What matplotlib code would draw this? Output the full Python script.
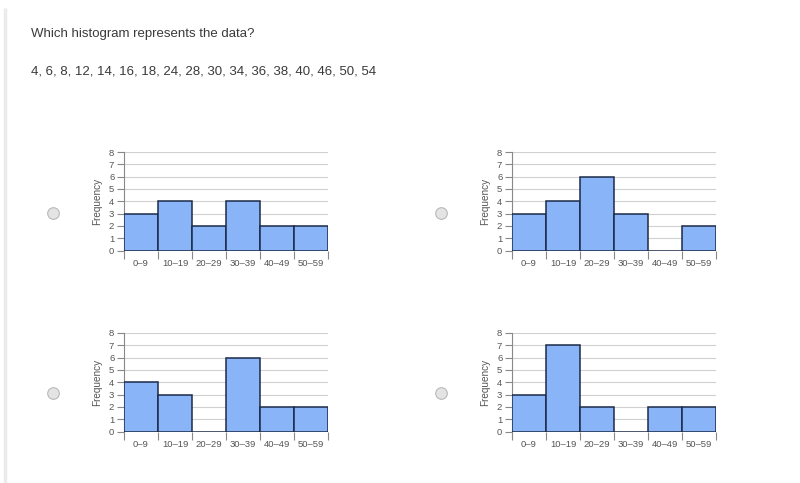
import matplotlib
matplotlib.use("Agg")
import matplotlib.pyplot as plt
import numpy as np

plt.rcParams['font.family'] = ['Liberation Sans', 'DejaVu Sans']

question = "Which histogram represents the data?"
data_text = "4, 6, 8, 12, 14, 16, 18, 24, 28, 30, 34, 36, 38, 40, 46, 50, 54"
categories = ["0–9", "10–19", "20–29", "30–39", "40–49", "50–59"]
freq_a = [3, 4, 2, 4, 2, 2]
freq_b = [3, 4, 6, 3, 0, 2]
freq_c = [4, 3, 0, 6, 2, 2]
freq_d = [3, 7, 2, 0, 2, 2]
y_ticks = list(range(0, 9))

W, H = 800, 483
fig = plt.figure(figsize=(W / 100, H / 100), dpi=100)
fig.patch.set_facecolor("white")

# background overlay in pixel coordinates
bg = fig.add_axes([0, 0, 1, 1], zorder=0)
bg.set_xlim(0, W)
bg.set_ylim(H, 0)
bg.axis("off")
bg.plot([5, 5], [8, H], color="#ebebeb", lw=2.5, solid_capstyle="butt")
bg.text(31, 34, question, fontsize=9.5, color="#3a3a3a", va="center", ha="left")
bg.text(31, 71, data_text, fontsize=9.5, color="#3a3a3a", va="center", ha="left")
for (cx, cy) in [(53, 213), (441, 213), (53, 393), (441, 393)]:
    bg.scatter([cx], [cy], s=70, facecolor="#e4e4e4", edgecolor="#b8b8b8", linewidth=0.8, zorder=3)

panels = [
    (freq_a, 124, 152),
    (freq_b, 512, 152),
    (freq_c, 124, 333),
    (freq_d, 512, 333),
]
pw, ph = 204, 98.5

for vals, px, py in panels:
    ax = fig.add_axes([px / W, 1 - (py + ph) / H, pw / W, ph / H], zorder=1)
    ax.set_facecolor("none")
    x = np.arange(len(categories))
    ax.bar(x, vals, width=1.0, color="#8ab4f8", edgecolor="#1c2a48", linewidth=1.1, zorder=3)
    ax.set_xlim(-0.5, len(categories) - 0.5)
    ax.set_ylim(0, 8)
    ax.set_yticks(y_ticks)
    ax.set_yticklabels([str(v) for v in y_ticks], fontsize=6.8, color="#555555")
    ax.yaxis.grid(True, color="#d0d0d0", linewidth=0.8, zorder=0)
    ax.set_xticks(x)
    ax.set_xticklabels(categories, fontsize=6.8, color="#555555")
    ax.set_xticks(np.arange(-0.5, len(categories)), minor=True)
    ax.tick_params(axis="x", which="major", length=0, pad=6)
    ax.tick_params(axis="x", which="minor", length=6, color="#888888", width=0.8)
    ax.tick_params(axis="y", length=5, color="#888888", width=0.8, pad=2)
    for s in ["top", "right", "bottom"]:
        ax.spines[s].set_visible(False)
    ax.spines["left"].set_color("#888888")
    ax.spines["left"].set_linewidth(0.8)
    ax.set_ylabel("Frequency", fontsize=7.2, color="#555555", labelpad=5)

fig.savefig("out.png", dpi=100, facecolor="white")
